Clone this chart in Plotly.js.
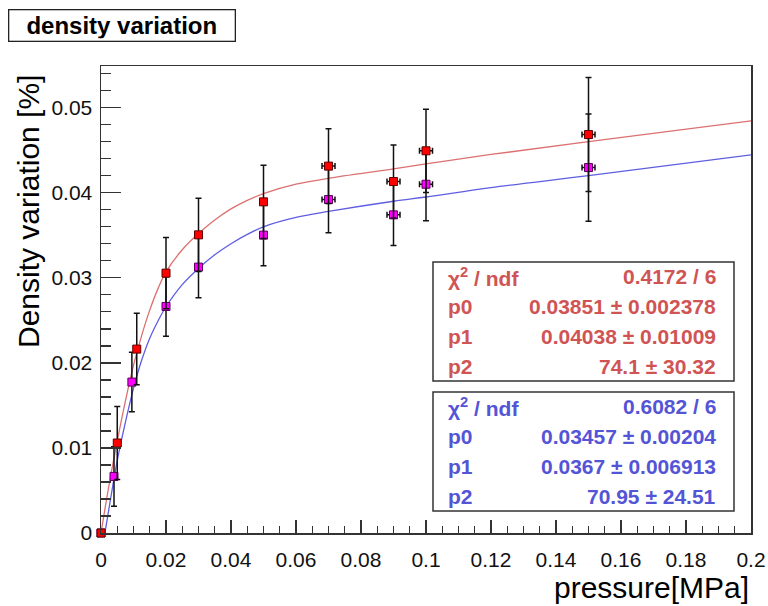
<!DOCTYPE html>
<html>
<head>
<meta charset="utf-8">
<script src="https://cdn.plot.ly/plotly-3.0.1.min.js"></script>
<style>html,body{margin:0;padding:0;background:#fff;}#chart{width:768px;height:606px;}</style>
</head>
<body>
<div id="chart"></div>
<script>
// ---- data ----
const redX   = [0, 0.005, 0.011, 0.02, 0.03, 0.05, 0.07, 0.09, 0.1, 0.15];
const redY   = [0, 0.01058, 0.02162, 0.03055, 0.03505, 0.03893, 0.04313, 0.04132, 0.04493, 0.04684];
const redEY  = [0, 0.0043, 0.0042, 0.0042, 0.0043, 0.0043, 0.0044, 0.0043, 0.0049, 0.0067];
const redEX  = [0, 0, 0, 0, 0, 0, 0.002, 0.002, 0.002, 0.002];

const magX   = [0, 0.004, 0.0095, 0.02, 0.03, 0.05, 0.07, 0.09, 0.1, 0.15];
const magY   = [0, 0.00665, 0.01774, 0.02663, 0.03126, 0.03502, 0.0392, 0.0374, 0.0410, 0.04296];
const magEY  = [0, 0.0035, 0.0035, 0.0035, 0.0036, 0.0036, 0.0039, 0.0036, 0.0043, 0.0063];
const magEX  = [0, 0, 0, 0, 0, 0, 0.002, 0.002, 0.002, 0.002];

const redFitX = [0, 0.0025, 0.005, 0.0075, 0.01, 0.0125, 0.015, 0.0175, 0.02, 0.025, 0.03, 0.035, 0.04, 0.045, 0.05, 0.06, 0.07, 0.09, 0.1, 0.12, 0.15, 0.2];
const redFitY = [0, 0.0057, 0.0108, 0.0155, 0.0197, 0.0232, 0.0262, 0.0287, 0.0307, 0.0333, 0.0352, 0.0368, 0.0381, 0.0391, 0.0399, 0.0410, 0.0417, 0.0428, 0.0434, 0.0445, 0.0460, 0.04845];

const blueFitX = [0.0012, 0.0025, 0.005, 0.0075, 0.01, 0.0125, 0.015, 0.0175, 0.02, 0.025, 0.03, 0.035, 0.04, 0.045, 0.05, 0.06, 0.07, 0.09, 0.1, 0.12, 0.15, 0.2];
const blueFitY = [0, 0.0030, 0.0085, 0.0130, 0.0170, 0.0203, 0.0229, 0.0249, 0.0266, 0.0292, 0.0311, 0.0327, 0.0340, 0.0351, 0.0360, 0.0371, 0.0378, 0.0390, 0.0395, 0.0406, 0.0420, 0.04445];

const statLabels = ["χ<sup>2</sup> / ndf", "p0", "p1", "p2"];
const redStats   = ["0.4172 / 6", "0.03851 ± 0.002378", "0.04038 ± 0.01009", "74.1 ± 30.32"];
const blueStats  = ["0.6082 / 6", "0.03457 ± 0.00204", "0.0367 ± 0.006913", "70.95 ± 24.51"];

const titleText = "density variation";
const xTitle = "pressure[MPa]";
const yTitle = "Density variation [%]";

// ---- layout helpers ----
const L = 101, R = 751, T = 66, B = 533;
const W = R - L, H = B - T;
const px = x => (x - L) / W;
const py = y => (B - y) / H;

const FONT = "Liberation Sans, Arial, sans-serif";
const redText = "#d05454", blueText = "#5454d6";
const redLine = "#dc7070", blueLine = "#5e5ee2";
const frame = "#333333";

const traces = [
  {x: redFitX, y: redFitY, mode: "lines", line: {color: redLine, width: 1.3, shape: "spline", smoothing: 1}, hoverinfo: "skip"},
  {x: blueFitX, y: blueFitY, mode: "lines", line: {color: blueLine, width: 1.3, shape: "spline", smoothing: 1}, hoverinfo: "skip"},
  {x: magX, y: magY, mode: "markers", cliponaxis: false,
   marker: {symbol: "square", size: 8, color: "#ff00ff", line: {color: "#5a005a", width: 1}},
   error_y: {type: "data", array: magEY, visible: true, color: "#111", thickness: 1.5, width: 3},
   error_x: {type: "data", array: magEX, visible: true, color: "#111", thickness: 1.5, width: 3}},
  {x: redX, y: redY, mode: "markers", cliponaxis: false,
   marker: {symbol: "square", size: 8, color: "#ff0000", line: {color: "#600000", width: 1}},
   error_y: {type: "data", array: redEY, visible: true, color: "#111", thickness: 1.5, width: 3},
   error_x: {type: "data", array: redEX, visible: true, color: "#111", thickness: 1.5, width: 3}}
];

const annotations = [];
const shapes = [];

// title box
annotations.push({xref: "paper", yref: "paper", x: px(8), y: py(9), xanchor: "left", yanchor: "top",
  text: "<b>" + titleText + "</b>", showarrow: false, font: {family: FONT, size: 24, color: "#000"},
  bordercolor: "#222", borderwidth: 1.3, borderpad: 2, width: 221, height: 26, align: "center", bgcolor: "#fff"});

// axis titles
annotations.push({xref: "paper", yref: "paper", x: 1, y: py(587), xanchor: "right", yanchor: "middle",
  text: xTitle, showarrow: false, font: {family: FONT, size: 30, color: "#000"}});
annotations.push({xref: "paper", yref: "paper", x: px(28), y: py(212), xanchor: "center", yanchor: "middle",
  text: yTitle, textangle: -90, showarrow: false, font: {family: FONT, size: 30, color: "#000"}});

// stat boxes
function statBox(top, bottom, vals, col) {
  const left = 433, right = 734;
  shapes.push({type: "rect", xref: "paper", yref: "paper", x0: px(left), x1: px(right), y0: py(bottom), y1: py(top),
    line: {color: frame, width: 1.5}, fillcolor: "#fff", layer: "above"});
  const h = (bottom - top) / 4;
  for (let i = 0; i < 4; i++) {
    const yc = top + (i + 0.5) * h;
    annotations.push({xref: "paper", yref: "paper", x: px(446), y: py(yc), xanchor: "left", yanchor: "middle",
      text: "<b>" + statLabels[i] + "</b>", showarrow: false, font: {family: FONT, size: 21, color: col}});
    annotations.push({xref: "paper", yref: "paper", x: px(718), y: py(yc), xanchor: "right", yanchor: "middle",
      text: "<b>" + vals[i] + "</b>", showarrow: false, font: {family: FONT, size: 21, color: col}});
  }
}
statBox(262, 381, redStats, redText);
statBox(392, 511, blueStats, blueText);

const layout = {
  width: 768, height: 606,
  margin: {l: L, r: 768 - R, t: T, b: 606 - B, pad: 0},
  paper_bgcolor: "#fff", plot_bgcolor: "#fff",
  showlegend: false,
  font: {family: FONT, size: 21, color: "#000"},
  xaxis: {range: [0, 0.2], showgrid: false, zeroline: false, showline: true, mirror: true,
    linecolor: frame, linewidth: 1.5, ticks: "inside", ticklen: 13, tickwidth: 1.3, tickcolor: frame,
    tick0: 0, dtick: 0.02, ticklabelstandoff: 7, tickfont: {family: FONT, size: 21, color: "#111"},
    minor: {ticks: "inside", dtick: 0.005, ticklen: 7, tickwidth: 1.3, tickcolor: frame, showgrid: false}},
  yaxis: {range: [0, 0.0549], showgrid: false, zeroline: false, showline: true, mirror: true,
    linecolor: frame, linewidth: 1.5, ticks: "inside", ticklen: 20, tickwidth: 1.3, tickcolor: frame,
    tick0: 0, dtick: 0.01, ticklabelstandoff: 3, tickfont: {family: FONT, size: 21, color: "#111"},
    minor: {ticks: "inside", dtick: 0.002, ticklen: 10, tickwidth: 1.3, tickcolor: frame, showgrid: false}},
  annotations: annotations,
  shapes: shapes
};

Plotly.newPlot("chart", traces, layout, {staticPlot: true, displayModeBar: false});
</script>
</body>
</html>
